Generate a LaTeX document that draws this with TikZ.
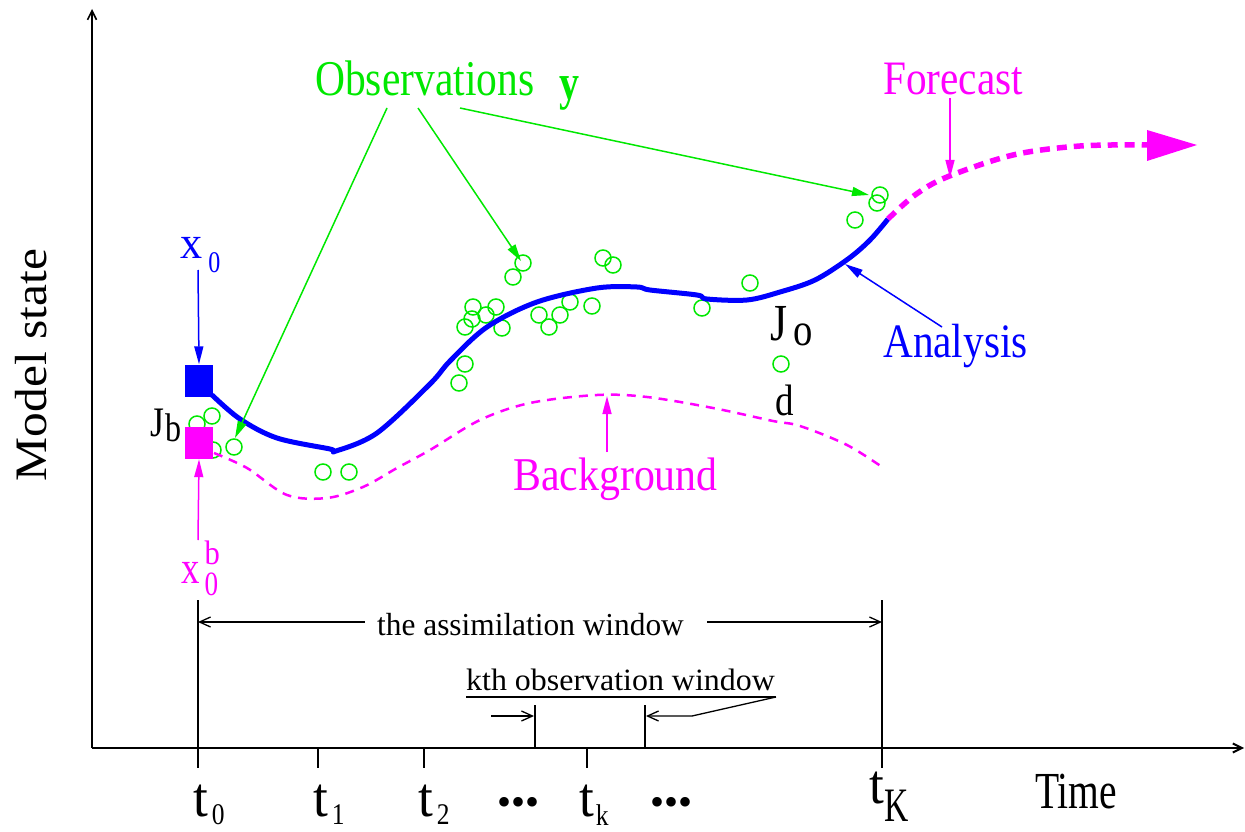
\documentclass[tikz,border=0pt]{standalone}
\usepackage{fontspec}
\setmainfont{Liberation Serif}
\usepackage{graphicx}
\usetikzlibrary{arrows.meta}
\definecolor{obsg}{RGB}{0,232,0}
\definecolor{anab}{RGB}{0,0,255}
\definecolor{bgm}{RGB}{255,0,255}
\newcommand\lbl[3]{\scalebox{#2}[1]{\fontsize{#1pt}{#1pt}\selectfont #3}}
\begin{document}
\begin{tikzpicture}[x=1pt,y=-1pt,
  txt/.style={inner sep=0pt, anchor=base west},
  obscirc/.style={draw=obsg, line width=1.5pt},
  garrow/.style={draw=obsg, line width=1.5pt, -{Triangle[length=17pt,width=9pt]}, fill=obsg},
  thinarr/.style={line width=1.5pt, -{Triangle[length=18pt,width=9pt]}},
  axisline/.style={line width=1.6pt, -{Straight Barb[length=9pt,width=9pt]}},
  dimline/.style={line width=1.3pt},
  squarebox/.style={inner sep=0pt, minimum width=28pt, minimum height=32pt}
]
\useasboundingbox (0,0) rectangle (1245,832);

% ---------- axes ----------
\coordinate (O) at (92,748);
\coordinate (ytop) at (92,9);
\coordinate (xend) at (1244,748);
\draw[axisline] (O) -- (ytop);
\draw[axisline, line width=2pt] (O) -- (xend);

% ticks
\coordinate (t0a) at (198,600); \coordinate (t0b) at (198,768);
\coordinate (tKa) at (882,600); \coordinate (tKb) at (882,768);
\coordinate (t1a) at (318,748); \coordinate (t1b) at (318,768);
\coordinate (t2a) at (424,748); \coordinate (t2b) at (424,768);
\coordinate (tka) at (587,748); \coordinate (tkb) at (587,768);
\draw[dimline] (t0a) -- (t0b);
\draw[dimline] (tKa) -- (tKb);
\draw[dimline] (t1a) -- (t1b);
\draw[dimline] (t2a) -- (t2b);
\draw[dimline] (tka) -- (tkb);

% tick labels
\node[txt] (lt0) at (193,816) {\lbl{56}{0.95}{t}\hspace{4pt}\raisebox{-8pt}{\lbl{30}{0.85}{0}}};
\node[txt] (lt1) at (313,816) {\lbl{56}{0.95}{t}\hspace{4pt}\raisebox{-8pt}{\lbl{30}{0.85}{1}}};
\node[txt] (lt2) at (418,816) {\lbl{56}{0.95}{t}\hspace{4pt}\raisebox{-8pt}{\lbl{30}{0.85}{2}}};
\node[txt] (ltk) at (579,816) {\lbl{56}{0.95}{t}\hspace{2pt}\raisebox{-9pt}{\lbl{30}{0.85}{k}}};
\node[txt] (ltK) at (869,803) {\lbl{56}{0.95}{t}\hspace{1pt}\raisebox{-18pt}{\lbl{48}{0.7}{K}}};
\node[inner sep=0pt, anchor=base] (dots1) at (518,815) {\lbl{40}{1}{•••}};
\node[inner sep=0pt, anchor=base] (dots2) at (671,815) {\lbl{40}{1}{•••}};
\node[txt] (time) at (1035,808) {\lbl{52}{0.76}{Time}};
\node[inner sep=0pt, rotate=90] (ms) at (31,365) {\lbl{45}{1.1}{Model state}};

% ---------- assimilation window ----------
\coordinate (aw0) at (198,622); \coordinate (aw1) at (365,622);
\coordinate (aw2) at (707,622); \coordinate (aw3) at (882,622);
\draw[dimline, {Straight Barb[length=11pt,width=10pt]}-] (aw0) -- (aw1);
\draw[dimline, -{Straight Barb[length=11pt,width=10pt]}] (aw2) -- (aw3);
\node[txt] (awtext) at (377,635) {\lbl{32}{0.98}{the assimilation window}};

% ---------- kth observation window ----------
\node[txt] (kth) at (466,690) {\lbl{31}{1.03}{kth observation window}};
\coordinate (kw1) at (535,705); \coordinate (kw1b) at (535,748);
\coordinate (kw2) at (645,705); \coordinate (kw2b) at (645,748);
\draw[line width=2pt] (kw1) -- (kw1b);
\draw[dimline] (kw2) -- (kw2b);
\coordinate (ka0) at (491,716); \coordinate (ka1) at (534,716);
\draw[dimline, -{Straight Barb[length=11pt,width=10pt]}] (ka0) -- (ka1);
\coordinate (ku0) at (466,697); \coordinate (ku1) at (776,697);
\coordinate (kbend) at (692,716); \coordinate (ka2) at (646,716);
\draw[line width=1.8pt] (ku0) -- (ku1);
\draw[dimline, -{Straight Barb[length=11pt,width=10pt]}] (ku1) -- (kbend) -- (ka2);

% ---------- observations ----------
\foreach \px/\py in {212/416, 197/424, 213/450, 234/447, 323/472, 349/472,
  523/263, 513/277, 603/258, 613/265, 750/283,
  473/307, 496/307, 486/315, 472/319, 465/327, 502/328,
  539/315, 560/315, 570/302, 549/327, 592/306, 702/308,
  465/364, 459/383, 781/364, 880/195, 877/203, 855/220}
  \draw[obscirc] (\px,\py) circle[radius=8];

% ---------- background ----------
\draw[bgm, line width=2.5pt, dash pattern=on 9pt off 7pt]
  plot[smooth, tension=0.55] coordinates {(214,453) (247,468) (287,495) (327,498) (363,487) (397,468) (430,450) (480,420) (530,403) (597,395) (647,397) (713,408) (773,421) (800,426) (847,445) (885,469)};

% ---------- analysis ----------
\draw[anab, line width=5pt, line join=round]
  plot[smooth, tension=0.55] coordinates {(212,395) (240,419) (277,438) (330,449) (336,451) (377,433) (430,384) (450,361) (487,327) (537,302) (597,288) (637,287) (650,290) (697,295) (707,299) (747,300) (780,292) (815,280) (848,259) (870,240) (888,219)};

% ---------- forecast ----------
\draw[bgm, line width=5.5pt, dash pattern=on 10pt off 7pt]
  plot[smooth, tension=0.55] coordinates {(888,219) (915,195) (947,177) (1013,155) (1080,146) (1147,145)};
\fill[bgm] (1147,130) -- (1197,145) -- (1147,161) -- cycle;

% ---------- squares ----------
\node[squarebox, fill=anab] (xsq) at (199,380.5) {};
\node[squarebox, fill=bgm] (bsq) at (199,443) {};

% ---------- labels ----------
\node[txt, text=obsg] (obs) at (315,96) {\lbl{50}{0.83}{Observations}};
\node[txt, text=obsg] (ybold) at (559,100) {\lbl{50}{0.8}{\bfseries y}};
\node[txt, text=bgm] (fc) at (883,95) {\lbl{48}{0.86}{Forecast}};
\node[txt, text=anab] (an) at (883,357) {\lbl{48}{0.86}{Analysis}};
\node[txt, text=bgm] (bg) at (513,490) {\lbl{47}{0.89}{Background}};
\node[txt, text=anab] (x0) at (180,258) {\lbl{46}{0.96}{x}\hspace{6pt}\raisebox{-14pt}{\lbl{30}{0.8}{0}}};
\node[txt, text=bgm] (x0b) at (181,583) {\lbl{46}{0.8}{x}\hspace{5pt}\rlap{\raisebox{19pt}{\lbl{34}{0.9}{b}}}\raisebox{-12pt}{\lbl{34}{0.8}{0}}};
\node[txt] (Jo) at (770,340) {\lbl{52}{0.84}{J}\hspace{6pt}\raisebox{-5pt}{\lbl{46}{0.84}{o}}};
\node[txt] (dlab) at (775,415) {\lbl{44}{0.84}{d}};
\node[txt] (Jb) at (150,436) {\lbl{42}{0.85}{J}\hspace{1pt}\raisebox{-5pt}{\lbl{40}{0.8}{b}}};

% ---------- label arrows ----------
\coordinate (o1s) at (387,108); \coordinate (o1e) at (235,438);
\coordinate (o2s) at (418,108); \coordinate (o2e) at (521,261);
\coordinate (o3s) at (460,108); \coordinate (o3e) at (869,195);
\draw[garrow] (o1s) -- (o1e);
\draw[garrow] (o2s) -- (o2e);
\draw[garrow] (o3s) -- (o3e);

\coordinate (x0s) at (198,270);
\draw[thinarr, anab, fill=anab] (x0s) -- (xsq.north);
\coordinate (xbs) at (198,540);
\draw[thinarr, bgm, fill=bgm] (xbs) -- (bsq.south);
\coordinate (fcs) at (950,98); \coordinate (fce) at (950,178);
\draw[thinarr, bgm, fill=bgm] (fcs) -- (fce);
\coordinate (ans) at (942,327); \coordinate (ane) at (845,264);
\draw[thinarr, anab, fill=anab] (ans) -- (ane);
\coordinate (bgs) at (607,452); \coordinate (bge) at (607,396);
\draw[thinarr, bgm, fill=bgm] (bgs) -- (bge);
\end{tikzpicture}
\end{document}
